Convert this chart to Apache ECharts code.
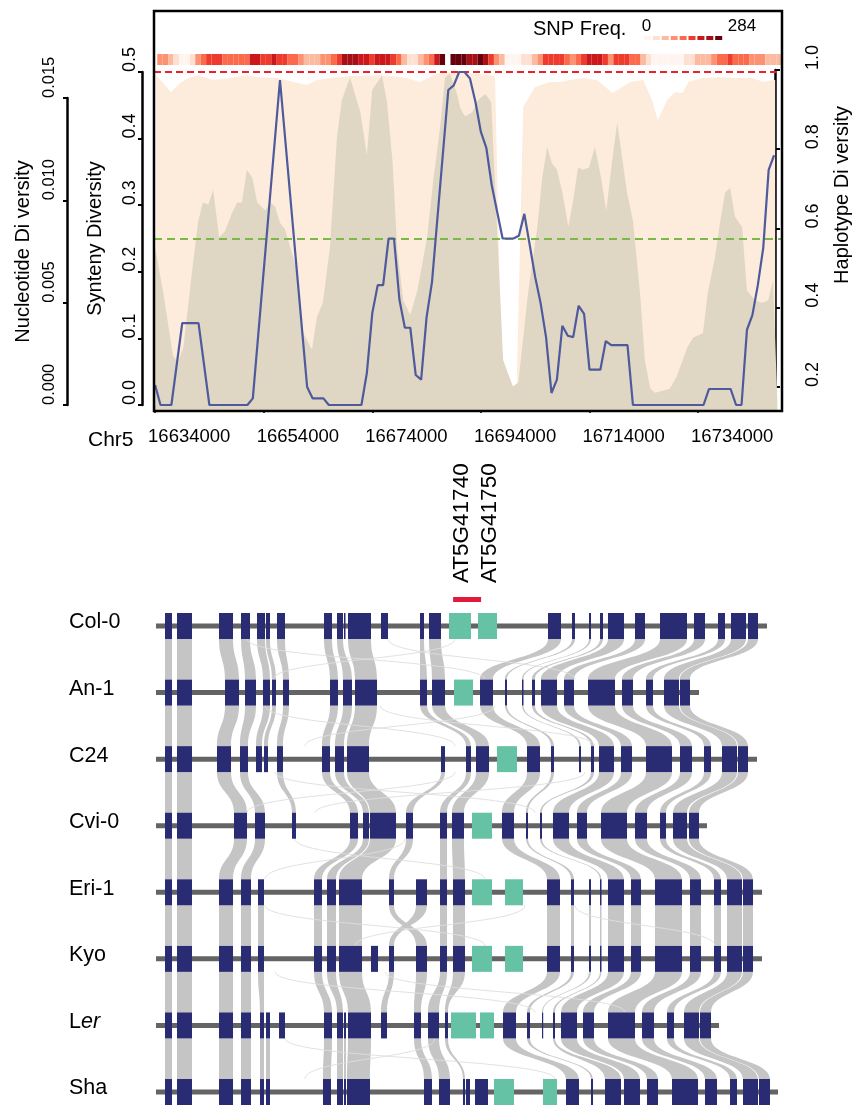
<!DOCTYPE html>
<html><head><meta charset="utf-8">
<script src="https://cdn.jsdelivr.net/npm/echarts@6/dist/echarts.min.js"></script>
<style>html,body{margin:0;padding:0;background:#fff}#c{width:856px;height:1106px}</style>
</head><body><div id="c"></div>
<script>
// ================= DATA =================
// top panel: genomic positions in kb on Chr5
const xTickValues = [16634000, 16654000, 16674000, 16694000, 16714000, 16734000];

const syntenyKb = [16634,16635,16637,16639,16642,16644,16651,16652,16657,16662,16663,16665,16666,16672,16673,16674,16675,16676,16677,16678,16679,16680,16681,16682,16683,16684,16685,16688,16689,16690,16691,16692,16693,16694,16695,16696,16698,16700,16701,16702,16703,16704,16705,16706,16707,16708,16709,16710,16711,16712,16713,16714,16716,16717,16718,16721,16722,16735,16736,16740,16741,16742,16743,16744,16745,16746,16747,16748];
const syntenyVal = [0.030,0,0,0.123,0.123,0,0,0.01,0.488,0.027,0.01,0.01,0,0,0.048,0.138,0.18,0.18,0.25,0.25,0.158,0.116,0.116,0.045,0.038,0.132,0.185,0.473,0.48,0.5,0.5,0.49,0.455,0.41,0.386,0.33,0.25,0.25,0.254,0.287,0.24,0.192,0.153,0.102,0.018,0.038,0.119,0.104,0.102,0.149,0.137,0.053,0.053,0.096,0.09,0.09,0,0,0.024,0.024,0,0,0.113,0.135,0.18,0.236,0.353,0.375];

const nucleotideKb = [16634.0,16635.5,16637.3,16638.2,16639.2,16640.8,16641.9,16642.8,16643.8,16644.7,16645.8,16646.9,16648.2,16649.1,16650.0,16650.9,16651.9,16652.8,16654.3,16655.2,16656.1,16657.0,16657.9,16658.9,16660.2,16661.3,16662.9,16663.8,16664.9,16666.2,16667.5,16668.4,16669.9,16671.8,16673.0,16674.0,16675.8,16676.7,16677.7,16678.6,16679.7,16681.0,16682.3,16684.1,16685.2,16686.5,16687.4,16688.3,16689.6,16690.2,16691.1,16692.4,16693.5,16694.8,16695.9,16698.1,16699.9,16700.9,16702.7,16704.4,16705.3,16706.2,16707.1,16708.0,16709.0,16710.1,16711.0,16711.9,16712.8,16713.9,16715.0,16716.0,16717.1,16718.2,16719.1,16720.0,16720.9,16722.0,16723.3,16724.2,16725.2,16726.1,16728.8,16730.1,16732.0,16733.1,16734.9,16735.8,16737.1,16738.1,16739.0,16739.9,16740.8,16742.1,16743.0,16744.5,16745.8,16746.9,16747.8,16748.6];
const nucleotideVal = [0.0077,0.0055,0.0024,0.0021,0.0028,0.0065,0.0089,0.0099,0.0098,0.0105,0.0082,0.0085,0.0094,0.0099,0.0099,0.0115,0.0111,0.0099,0.0095,0.0099,0.0097,0.0089,0.0086,0.0077,0.0065,0.0035,0.0027,0.0043,0.0050,0.0077,0.0131,0.0149,0.0160,0.0143,0.0122,0.0154,0.0161,0.0148,0.0120,0.0076,0.0051,0.0044,0.0056,0.0082,0.0109,0.0136,0.0160,0.0162,0.0152,0.0145,0.0141,0.0143,0.0149,0.0152,0.0148,0.0022,0.0009,0.0011,0.0055,0.0087,0.0111,0.0126,0.0118,0.0115,0.0104,0.0087,0.0100,0.0116,0.0115,0.0116,0.0126,0.0113,0.0095,0.0120,0.0138,0.0121,0.0104,0.0090,0.0055,0.0022,0.0008,0.0006,0.0008,0.0014,0.0028,0.0033,0.0035,0.0055,0.0072,0.0090,0.0104,0.0106,0.0092,0.0087,0.0056,0.0051,0.0050,0.0051,0.0061,0.0002];

const haplotypeKb = [16634.2,16635.5,16636.9,16638.6,16640.5,16641.9,16644.7,16647.8,16650.9,16653.3,16656.5,16659.4,16662.0,16663.8,16667.5,16669.9,16676.0,16679.7,16682.8,16685.2,16687.0,16692.0,16695.7,16696.6,16697.9,16699.7,16700.6,16701.8,16704.0,16706.7,16708.6,16710.4,16712.8,16715.4,16718.2,16719.3,16721.5,16723.9,16725.5,16726.6,16728.3,16729.8,16731.2,16732.2,16734.9,16738.1,16741.2,16744.1,16746.0,16747.8,16748.2];
const haplotypeVal = [0.987,0.967,0.944,0.967,0.982,0.987,0.975,0.98,0.987,0.982,0.98,0.97,0.962,0.975,0.982,0.985,0.987,0.982,0.97,0.987,0.995,0.992,0.987,0.985,0.2,0.197,0.205,0.907,0.957,0.97,0.97,0.975,0.98,0.975,0.942,0.95,0.97,0.975,0.924,0.874,0.924,0.944,0.942,0.97,0.98,0.982,0.98,0.98,0.97,0.975,0.975];

// SNP frequency per 1 kb bin (null = no data)
const snpStartKb = 16634.4;
const snpBinKb = 1;
const snpCount = [112,106,80,44,12,9,47,104,142,170,176,168,139,144,137,141,146,205,199,173,167,210,171,175,145,138,110,79,73,77,103,113,147,166,238,232,240,204,199,169,207,212,201,178,149,82,41,48,75,108,137,214,266,null,279,271,284,247,233,262,229,181,112,84,14,7,10,40,49,71,101,171,169,177,165,144,107,136,174,208,196,203,172,116,165,178,170,139,145,88,52,11,8,5,9,6,13,46,40,82,76,70,117,146,151,175,143,137,148,114,106,99,86,79,72];
const snpMax = 284;
const snpColors = ['#fff5f0','#fee0d2','#fcbba1','#fc9272','#fb6a4a','#ef3b2c','#cb181d','#a50f15','#67000d'];

const syntenyThresholds = [0.5, 0.25];

const targetGenes = ['AT5G41740', 'AT5G41750'];
const targetLabelBp = [16690538, 16695694];
const targetRegionBp = [16688880, 16694037];

// bottom panel: gene blocks [start, end, orthogroup] in relative alignment units
const accessions = ['Col-0','An-1','C24','Cvi-0','Eri-1','Kyo','Ler','Sha'];
const chromStart = 1;
const chromEnd = [612,544,602,552,607,607,564,623];
const genesCol0 = [[10,17,'g1'],[22,37,'g2'],[64,78,'g3'],[86,95,'g4'],[102,110,'g5'],[111,115,'g6'],[122,130,'g7'],[169,177,'g8'],[182,188,'g9'],[189,190.5,'g10'],[193,216,'g11'],[226,233,'g12'],[265,269,'g13'],[274,286,'g14'],[294,316,'T1'],[323,342,'T2'],[393,406,'g15'],[417,420,'g16'],[434,436,'g17'],[445,448,'g18'],[453,469,'g19'],[480,490,'g20'],[505,532,'g21'],[539,550,'g22'],[563,570,'g23'],[576,591,'g24'],[593,603,'g25']];
const genesAn1 = [[10,17,'g1'],[22,37,'g2'],[70,84,'g3'],[90,101,'g4'],[108,115,'g5'],[117,121,'g6'],[128,134,'g7'],[175,183,'g8'],[188,197,'g9'],[200,222,'g11'],[265,272,'g13'],[277,290,'g14'],[299,318,'T1'],[325,338,'g15'],[350,352,'g16'],[367,368.5,'g17'],[377,380,'g18'],[386,402,'g19'],[409,419,'g20'],[433,460,'g21'],[467,478,'g22'],[491,498,'g23'],[509,524,'g24'],[525,535,'g25']];
const genesC24 = [[10,17,'g1'],[22,37,'g2'],[62,76,'g3'],[85,93,'g4'],[101,107,'g5'],[109,113,'g6'],[122,128,'g7'],[167,175,'g8'],[180,189,'g9'],[192,214,'g11'],[286,290,'x1'],[311,316,'g13'],[321,334,'g14'],[342,362,'T1'],[372,385,'g15'],[396,399,'g16'],[424,426,'g17'],[436,439,'g18'],[444,459,'g19'],[466,477,'g20'],[491,517,'g21'],[525,537,'g22'],[549,556,'g23'],[567,582,'g24'],[583,593,'g25']];
const genesCvi0 = [[10,17,'g1'],[22,37,'g2'],[79,92,'g3'],[100,110,'g4'],[137,141,'g7'],[195,203,'g8'],[208,214,'g9'],[215,241,'g11'],[251,258,'x1'],[285,292,'g13'],[297,309,'g14'],[317,337,'T1'],[347,359,'g15'],[371,373,'g16'],[385,387,'g18'],[398,414,'g19'],[422,432,'g20'],[446,472,'g21'],[480,492,'g22'],[505,511,'g23'],[518,532,'g24'],[534,544,'g25']];
const genesEri1 = [[10,17,'g1'],[22,37,'g2'],[64,78,'g3'],[86,96,'g4'],[103,109,'g5'],[159,167,'g8'],[172,181,'g9'],[184,207,'g11'],[234,239,'x1'],[261,272,'x3'],[285,292,'g13'],[298,310,'g14'],[317,337,'T1'],[350,368,'T2'],[392,405,'g15'],[416,419,'g16'],[434,436,'g17'],[445,446.5,'g18'],[453,469,'g19'],[476,486,'g20'],[500,527,'g21'],[535,546,'g22'],[559,566,'g23'],[572,587,'g24'],[588,598,'g25']];
const genesKyo = [[10,17,'g1'],[22,37,'g2'],[64,78,'g3'],[86,96,'g4'],[103,109,'g5'],[159,167,'g8'],[172,181,'g9'],[184,207,'g11'],[216,223,'x2'],[234,239,'x3'],[261,272,'x1'],[285,292,'g13'],[298,310,'g14'],[317,337,'T1'],[350,368,'T2'],[392,405,'g15'],[416,419,'g16'],[434,436,'g17'],[445,446.5,'g18'],[453,469,'g19'],[476,486,'g20'],[500,527,'g21'],[535,546,'g22'],[559,566,'g23'],[572,587,'g24'],[588,598,'g25']];
const genesLer = [[10,17,'g1'],[22,37,'g2'],[64,78,'g3'],[86,96,'g4'],[105,109,'g5'],[111,115,'g6'],[124,130,'g7'],[169,177,'g8'],[182,188,'g9'],[189,191,'g10'],[193,216,'g11'],[226,232,'x3'],[259,266,'x1'],[273,284,'g13'],[290,293,'g14'],[296,321,'T1'],[325,339,'T2'],[348,361,'g15'],[372,375,'g16'],[387,388,'g17'],[398,400,'g18'],[406,422,'g19'],[428,439,'g20'],[453,480,'g21'],[487,499,'g22'],[512,519,'g23'],[529,544,'g24'],[545,556,'g25']];
const genesSha = [[10,17,'g1'],[22,37,'g2'],[64,78,'g3'],[86,96,'g4'],[105,109,'g5'],[111,115,'g6'],[168,176,'g8'],[182,188,'g9'],[189,191,'g10'],[192,215,'g11'],[269,277,'x1'],[284,295,'g13'],[308,310,'g14'],[311,315,'s1'],[320,333,'s2'],[339,359,'T1'],[388,402,'T2'],[411,424,'g15'],[436,438,'g16'],[450,466,'g18'],[469,485,'g19'],[492,503,'g20'],[517,543,'g21'],[550,562,'g22'],[575,582,'g23'],[588,603,'g24'],[604,615,'g25']];
const genesByAccession = [genesCol0, genesAn1, genesC24, genesCvi0, genesEri1, genesKyo, genesLer, genesSha];
// faint weak-similarity links between neighbouring accessions: [upper row, position above, position below]
const weakLinks = [[0,92,330],[0,300,118],[0,233,420],[1,110,300],[1,340,150],[1,225,440],[2,120,380],[2,430,160],[2,300,92],[3,140,330],[3,250,110],[4,110,330],[4,370,200],[4,420,560],[5,120,380],[5,230,470],[6,130,400],[6,280,150]];

// ================= BUILD =================
const FONT = "'Liberation Sans', Arial, Helvetica, sans-serif";
const X_MIN = 16633800, X_MAX = 16749454;
const NAVY = '#292b73', TEAL = '#66c2a5', RIBBON = '#c5c5c5', CHROM = '#646464';
const BOX_H = 26, LINE_H = 5;

const syntenyData = syntenyKb.map((k, i) => [k * 1000, syntenyVal[i]]);
const nucleotideData = nucleotideKb.map((k, i) => [k * 1000, nucleotideVal[i]]);
const haplotypeData = haplotypeKb.map((k, i) => [k * 1000, haplotypeVal[i]]);
const snpData = [];
snpCount.forEach((c, i) => {
  if (c != null) snpData.push([(snpStartKb + i * snpBinKb) * 1000, (snpStartKb + (i + 1) * snpBinKb) * 1000, c]);
});
const step = snpMax / snpColors.length;
const snpPieces = snpColors.map((col, i) => (i === snpColors.length - 1 ? { gte: i * step, lte: snpMax, color: col } : { gte: i * step, lt: (i + 1) * step, color: col }));

const geneData = [], chromData = [], ribbonData = [];
genesByAccession.forEach((list, r) => {
  chromData.push([chromStart, r, chromEnd[r]]);
  list.forEach(g => geneData.push([g[0], r, g[1], g[2][0] === 'T' ? 1 : 0]));
  if (r < genesByAccession.length - 1) {
    const next = genesByAccession[r + 1];
    list.forEach(g => {
      if (g[2][0] === 'T') return;
      const h = next.find(n => n[2] === g[2]);
      if (h) ribbonData.push([g[0], r, g[1], h[0], h[1]]);
    });
  }
});
const weakData = weakLinks.map(w => [w[1], w[0], w[2]]);

const chart = echarts.init(document.getElementById('c'), null, { renderer: 'canvas' });
const hiddenX = (gi, min, max) => ({ type: 'value', gridIndex: gi, min, max, show: false });
const hiddenY = (gi, min, max) => ({ type: 'value', gridIndex: gi, min, max, show: false });
const baseGrid = { containLabel: false, outerBoundsMode: 'none' };

const dispAxis = (gi, min, max, interval, pos, digits, fontSize, margin, tickLen, extra) => Object.assign({
  type: 'value', gridIndex: gi, position: pos, min, max, interval,
  axisLine: { show: true, lineStyle: { color: '#000', width: 2.5 } },
  axisTick: { show: true, length: tickLen, lineStyle: { color: '#000', width: 2 } },
  splitLine: { show: false },
  axisLabel: { rotate: 90, align: 'left', verticalAlign: 'middle', margin, color: '#000', fontSize, fontFamily: FONT,
    formatter: v => v.toFixed(digits) }
}, extra || {});

const option = {
  animation: false,
  backgroundColor: '#fff',
  textStyle: { fontFamily: FONT },
  grid: [
    Object.assign({ left: 154, top: 11, width: 628, height: 400, show: true, borderColor: '#000', borderWidth: 2.5, backgroundColor: 'transparent', z: 10 }, baseGrid), // 0 main
    Object.assign({ left: 154, top: 54, width: 628, height: 11 }, baseGrid),   // 1 snp strip
    Object.assign({ left: 154, top: 450, width: 628, height: 152 }, baseGrid), // 2 gene annotation
    Object.assign({ left: 67, top: 98, width: 20, height: 307 }, baseGrid),    // 3 nucleotide axis
    Object.assign({ left: 142, top: 72, width: 20, height: 333 }, baseGrid),   // 4 synteny axis
    Object.assign({ left: 775, top: 70, width: 20, height: 317 }, baseGrid),   // 5 haplotype axis
    Object.assign({ left: 155, top: 626, width: 650, height: 466 }, baseGrid), // 6 synteny blocks
    Object.assign({ left: 147, top: 11, width: 628, height: 400 }, baseGrid)   // 7 x tick labels (left aligned, nudged)
  ],
  xAxis: [
    { type: 'value', gridIndex: 0, position: 'bottom', min: X_MIN, max: X_MAX,
      axisLine: { show: false }, splitLine: { show: false },
      axisTick: { show: true, customValues: xTickValues, length: 8, lineStyle: { color: '#000', width: 1.5 } },
      axisLabel: { show: false } },
    { type: 'value', gridIndex: 7, position: 'bottom', min: X_MIN, max: X_MAX,
      axisLine: { show: false }, axisTick: { show: false }, splitLine: { show: false },
      axisLabel: { show: true, customValues: xTickValues, align: 'left', margin: 16, fontSize: 18.5, color: '#000', fontFamily: FONT, formatter: v => String(v) } },
    hiddenX(1, X_MIN, X_MAX),
    hiddenX(2, X_MIN, X_MAX),
    hiddenX(3, 0, 1),
    hiddenX(4, 0, 1),
    hiddenX(5, 0, 1),
    hiddenX(6, 0, 650)
  ],
  yAxis: [
    hiddenY(0, -0.009, 0.5916),       // 0 synteny scale
    hiddenY(0, -0.000293, 0.019251),  // 1 nucleotide scale
    hiddenY(0, 0.13943, 1.1489),      // 2 haplotype scale
    hiddenY(1, 0, 1),                 // 3 strip
    hiddenY(2, 0, 1),                 // 4 annotation
    dispAxis(3, 0, 0.015, 0.005, 'left', 3, 16.5, 18, 4, {
      name: 'Nucleotide Di versity', nameLocation: 'middle', nameRotate: 90, nameGap: 44, nameMoveOverlap: false,
      nameTextStyle: { fontSize: 20, color: '#000', fontFamily: FONT, verticalAlign: 'middle', align: 'center' } }),
    dispAxis(4, 0, 0.5, 0.1, 'left', 1, 18, 12, 4, {
      name: 'Synteny Diversity', nameLocation: 'middle', nameRotate: 90, nameGap: 47, nameMoveOverlap: false,
      nameTextStyle: { fontSize: 20, color: '#000', fontFamily: FONT, verticalAlign: 'middle', align: 'center' } }),
    dispAxis(5, 0.2, 1.0, 0.2, 'right', 1, 18, 18, 5),
    { type: 'value', gridIndex: 6, min: 0, max: 7, interval: 1, inverse: true,
      axisLine: { show: false }, axisTick: { show: false }, splitLine: { show: false },
      axisLabel: { show: true, align: 'left', verticalAlign: 'middle', margin: 86, padding: [0, 0, 7, 0],
        formatter: v => { const n = accessions[Math.round(v)]; return n === 'Ler' ? '{n|L}{i|er}' : '{n|' + n + '}'; },
        rich: { n: { fontSize: 21.5, fontFamily: FONT, color: '#000' }, i: { fontSize: 21.5, fontFamily: FONT, color: '#000', fontStyle: 'italic' } } } },
    hiddenY(7, 0, 1)
  ],
  visualMap: [{
    type: 'piecewise', seriesIndex: 3, dimension: 2, orient: 'horizontal', left: 644, top: 36,
    itemWidth: 7, itemHeight: 4, itemGap: 1.9, itemSymbol: 'rect', showLabel: false, selectedMode: false,
    padding: 0, pieces: snpPieces
  }],
  graphic: [
    { type: 'text', left: 533, top: 19, style: { text: 'SNP Freq.', fontSize: 20, fontFamily: FONT, fill: '#000' } },
    { type: 'text', x: 646.5, y: 26, style: { text: '0', fontSize: 17, fontFamily: FONT, fill: '#000', align: 'center', verticalAlign: 'middle' } },
    { type: 'text', x: 742, y: 26, style: { text: String(snpMax), fontSize: 17, fontFamily: FONT, fill: '#000', align: 'center', verticalAlign: 'middle' } },
    { type: 'text', x: 88, y: 440, style: { text: 'Chr5', fontSize: 21, fontFamily: FONT, fill: '#000', align: 'left', verticalAlign: 'middle' } },
    { type: 'text', x: 842, y: 195, rotation: Math.PI / 2, style: { text: 'Haplotype Di versity', fontSize: 20, fontFamily: FONT, fill: '#000', align: 'center', verticalAlign: 'middle' } }
  ],
  series: [
    { name: 'Haplotype diversity', type: 'line', xAxisIndex: 0, yAxisIndex: 2, data: haplotypeData, showSymbol: false, z: 1,
      lineStyle: { width: 0, opacity: 0 }, areaStyle: { color: '#fdebdb', opacity: 1, origin: 'start' } },
    { name: 'Nucleotide diversity', type: 'line', xAxisIndex: 0, yAxisIndex: 1, data: nucleotideData, showSymbol: false, z: 2,
      lineStyle: { width: 0, opacity: 0 }, areaStyle: { color: '#dfd7c3', opacity: 1, origin: 'start' } },
    { name: 'Synteny diversity', type: 'line', xAxisIndex: 0, yAxisIndex: 0, data: syntenyData, showSymbol: false, z: 4,
      lineStyle: { color: '#4e5a9c', width: 2.2 },
      markLine: { silent: true, symbol: 'none', z: 3, label: { show: false },
        data: [
          { yAxis: syntenyThresholds[0], lineStyle: { color: '#e8212b', type: [7, 4], width: 2 } },
          { yAxis: syntenyThresholds[1], lineStyle: { color: '#7cb848', type: [8, 5], width: 1.8 } }
        ] } },
    { name: 'SNP Freq.', type: 'custom', xAxisIndex: 2, yAxisIndex: 3, data: snpData,
      encode: { x: [0, 1], y: -1 },
      renderItem: (params, api) => {
        const a = api.coord([api.value(0), 1]);
        const b = api.coord([api.value(1), 0]);
        return { type: 'rect', shape: { x: a[0], y: a[1], width: b[0] - a[0], height: b[1] - a[1] }, style: { fill: api.visual('color') } };
      } },
    { name: 'Target region', type: 'custom', xAxisIndex: 3, yAxisIndex: 4, data: [[targetRegionBp[0], targetRegionBp[1]]],
      encode: { x: [0, 1], y: -1 },
      renderItem: (params, api) => {
        const a = api.coord([api.value(0), 0]);
        const b = api.coord([api.value(1), 0]);
        return { type: 'rect', shape: { x: a[0], y: a[1] - 5, width: b[0] - a[0], height: 5 }, style: { fill: '#e41a3c' } };
      } },
    { name: 'Target genes', type: 'custom', xAxisIndex: 3, yAxisIndex: 4, data: targetLabelBp.map(p => [p, 0]),
      renderItem: (params, api) => {
        const p = api.coord([api.value(0), 0]);
        return { type: 'text', x: p[0], y: p[1] - 19, rotation: Math.PI / 2,
          style: { text: targetGenes[params.dataIndex], fontSize: 22.5, fontFamily: FONT, fill: '#000', align: 'left', verticalAlign: 'middle' } };
      } },
    { name: 'Synteny ribbons', type: 'custom', xAxisIndex: 7, yAxisIndex: 8, data: ribbonData,
      renderItem: (params, api) => {
        const r = api.value(1);
        const a0 = api.coord([api.value(0), r]), a1 = api.coord([api.value(2), r]);
        const b0 = api.coord([api.value(3), r + 1]), b1 = api.coord([api.value(4), r + 1]);
        const yT = a0[1] + BOX_H / 2, yB = b0[1] - BOX_H / 2, ym = (yT + yB) / 2;
        const d = 'M' + a0[0] + ' ' + yT + ' C' + a0[0] + ' ' + ym + ' ' + b0[0] + ' ' + ym + ' ' + b0[0] + ' ' + yB +
          ' L' + b1[0] + ' ' + yB + ' C' + b1[0] + ' ' + ym + ' ' + a1[0] + ' ' + ym + ' ' + a1[0] + ' ' + yT + ' Z';
        return { type: 'path', shape: { pathData: d }, style: { fill: RIBBON, stroke: null } };
      } },
    { name: 'Weak links', type: 'custom', xAxisIndex: 7, yAxisIndex: 8, data: weakData,
      renderItem: (params, api) => {
        const r = api.value(1);
        const a = api.coord([api.value(0), r]), b = api.coord([api.value(2), r + 1]);
        const yT = a[1] + BOX_H / 2, yB = b[1] - BOX_H / 2, ym = (yT + yB) / 2;
        const d = 'M' + a[0] + ' ' + yT + ' C' + a[0] + ' ' + ym + ' ' + b[0] + ' ' + ym + ' ' + b[0] + ' ' + yB;
        return { type: 'path', shape: { pathData: d }, style: { fill: null, stroke: 'rgba(222,222,222,0.9)', lineWidth: 1 } };
      } },
    { name: 'Chromosomes', type: 'custom', xAxisIndex: 7, yAxisIndex: 8, data: chromData,
      renderItem: (params, api) => {
        const a = api.coord([api.value(0), api.value(1)]);
        const b = api.coord([api.value(2), api.value(1)]);
        return { type: 'rect', shape: { x: a[0], y: a[1] - LINE_H / 2, width: b[0] - a[0], height: LINE_H }, style: { fill: CHROM } };
      } },
    { name: 'Genes', type: 'custom', xAxisIndex: 7, yAxisIndex: 8, data: geneData,
      renderItem: (params, api) => {
        const a = api.coord([api.value(0), api.value(1)]);
        const b = api.coord([api.value(2), api.value(1)]);
        return { type: 'rect', shape: { x: a[0], y: a[1] - BOX_H / 2, width: Math.max(b[0] - a[0], 1.2), height: BOX_H },
          style: { fill: api.value(3) ? TEAL : NAVY } };
      } }
  ]
};
chart.setOption(option);
</script>
</body></html>
